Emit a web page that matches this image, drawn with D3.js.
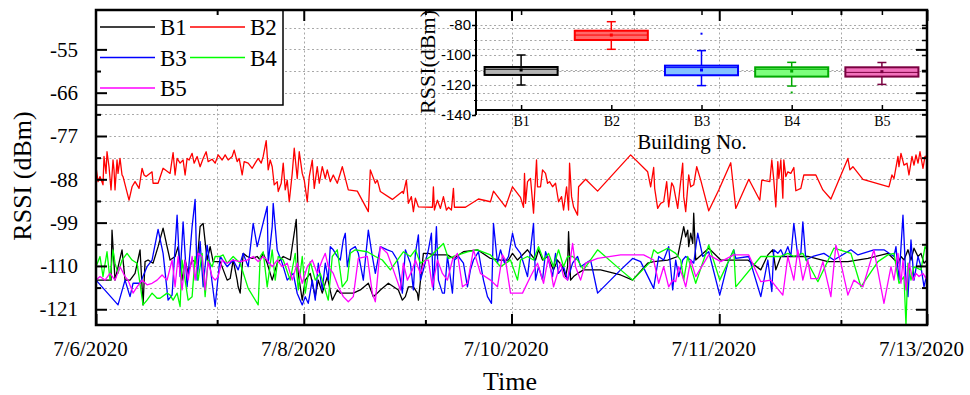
<!DOCTYPE html>
<html><head><meta charset="utf-8">
<script src="https://cdn.jsdelivr.net/npm/d3@7"></script>
<style>body{margin:0;background:#fff}svg{display:block}</style>
</head><body><svg id="c" width="970" height="395"></svg>
<script>
// ---------------- DATA ----------------
const seriesNames = ["B1","B2","B3","B4","B5"];
const xTickValues = [0, 207.5, 415, 622.5, 830];
const xTickLabels = ["7/6/2020","7/8/2020","7/10/2020","7/11/2020","7/13/2020"];
const xMinorValues = [121, 329, 537, 744];
const yTickValues = [-121,-110,-99,-88,-77,-66,-55];
const yMinorValues = [-115.5,-104.5,-93.5,-82.5,-71.5,-60.5,-49.5];

const b1 = [[0,-113.6],[4,-113.6],[15,-113.6],[16,-100.9],[19,-113.6],[26,-105.9],[29,-113.6],[34,-113.6],[39,-111.9],[44,-105.9],[47,-119.9],[49,-108.9],[52,-108.5],[57,-109.3],[62,-105.1],[67,-100.4],[71,-105.1],[74,-108.5],[79,-107.6],[82,-105.1],[86,-113.6],[89,-108.5],[92,-111.9],[96,-108.5],[101,-109.3],[104,-100.0],[107,-99.2],[111,-108.5],[114,-105.1],[117,-108.9],[124,-108.9],[131,-113.6],[134,-113.2],[137,-108.5],[141,-113.6],[142,-115.3],[144,-116.9],[147,-106.8],[151,-107.6],[156,-108.1],[161,-107.6],[164,-108.5],[167,-106.8],[171,-109.3],[174,-111.9],[176,-113.6],[181,-109.3],[187,-107.6],[194,-108.5],[200,-98.2],[202,-111.9],[206,-118.7],[209,-113.6],[214,-111.9],[219,-117.8],[222,-113.6],[226,-116.9],[231,-112.7],
[236,-118.7],[241,-116.1],[244,-116.9],[257,-116.9],[264,-116.1],[272,-114.4],[277,-117.8],[281,-116.9],[284,-116.1],[292,-114.4],[302,-116.1],[306,-118.7],[309,-117.8],[312,-115.3],[317,-115.3],[321,-116.9],[322,-118.7],[327,-106.8],[332,-106.8],[337,-107.2],[344,-107.2],[351,-107.2],[357,-108.1],[367,-106.4],[381,-105.9],[394,-108.1],[404,-108.5],[412,-108.5],[416,-106.8],[421,-108.5],[431,-105.9],[436,-107.6],[439,-108.5],[442,-105.9],[446,-108.5],[451,-107.6],[457,-111.0],[461,-108.5],[466,-110.2],[469,-112.7],[471,-110.2],[472,-101.3],[474,-113.6],[477,-112.7],[481,-111.9],[487,-111.0],[504,-111.0],
[524,-112.3],[536,-113.6],[551,-109.3],[557,-108.9],[571,-108.5],[581,-107.6],[587,-100.0],[589,-102.6],[591,-100.9],[592,-105.1],[594,-101.7],[596,-104.3],[597,-96.6],[599,-108.5],[612,-105.5],[624,-108.5],[651,-108.5],[664,-111.0],[671,-107.2],[676,-105.9],[679,-111.0],[684,-107.6],[697,-107.6],[711,-107.6],[731,-108.9],[751,-108.9],[771,-108.1],[791,-106.8],[801,-109.3],[804,-107.6],[807,-108.5],[811,-105.9],[814,-108.5],[817,-105.5],[821,-107.6],[824,-106.8],[827,-109.3],[830,-108.5]];

const b2 = [[0,-84.8],[2,-88.6],[4,-87.3],[7,-89.4],[8,-82.2],[10,-86.5],[11,-81.0],[13,-84.8],[15,-90.7],[17,-83.1],[18,-85.6],[19,-90.7],[21,-83.1],[22,-86.5],[24,-82.7],[26,-86.9],[27,-87.3],[33,-93.3],[36,-89.9],[39,-88.6],[43,-90.3],[46,-85.2],[48,-86.9],[50,-87.3],[56,-86.1],[57,-89.0],[62,-89.0],[67,-85.2],[74,-86.5],[77,-81.2],[79,-86.9],[81,-82.7],[84,-83.9],[87,-83.1],[89,-86.9],[91,-82.7],[93,-83.1],[96,-81.4],[98,-83.9],[101,-82.2],[104,-84.8],[107,-82.7],[110,-81.0],[112,-83.5],[116,-82.9],[119,-83.9],[122,-81.8],[126,-83.1],[129,-81.8],[132,-83.1],[136,-82.2],[138,-80.6],[141,-83.5],[143,-82.7],[146,-86.9],[148,-83.5],[152,-83.9],[156,-85.2],[159,-83.9],[162,-82.7],[165,-83.9],[167,-82.2],[170,-78.2],[172,-85.6],[174,-83.1],[176,-84.8],[178,-89.4],[181,-88.6],[182,-91.1],[185,-89.0],[187,-83.9],[189,-90.7],[191,-88.2],[193,-93.7],[196,-86.5],[198,-80.1],[201,-87.8],[203,-81.0],[206,-86.5],[208,-88.2],[211,-93.7],[213,-87.3],[216,-83.1],[218,-90.3],[221,-84.8],[223,-89.0],[226,-84.8],[229,-87.8],[231,-85.6],[234,-88.6],[237,-86.9],[241,-89.0],[246,-84.8],[252,-90.7],[261,-91.0],[272,-96.2],[274,-85.6],[279,-89.0],[281,-88.2],[284,-91.1],[296,-93.1],[306,-91.1],[307,-91.6],[310,-88.2],[312,-94.1],[315,-92.4],[317,-96.2],[319,-92.8],[322,-95.0],[336,-95.1],[337,-89.9],[338,-95.8],[341,-93.3],[344,-95.4],[347,-92.4],[350,-95.8],[352,-95.1],[355,-95.8],[357,-90.3],[358,-95.1],[369,-95.1],[382,-93.0],[394,-93.7],[397,-91.0],[409,-95.0],[416,-89.9],[424,-92.6],[427,-95.1],[428,-86.5],[429,-94.1],[431,-88.6],[434,-87.8],[437,-96.6],[440,-83.1],[441,-89.9],[444,-89.9],[446,-85.6],[449,-86.5],[451,-89.0],[453,-88.6],[456,-89.9],[459,-89.0],[462,-93.7],[465,-92.4],[467,-95.8],[470,-89.9],[472,-95.8],[473,-83.9],[475,-92.4],[477,-95.0],[481,-97.1],[482,-89.9],[489,-88.0],[501,-91.0],[534,-81.8],[551,-86.1],[554,-89.9],[557,-85.0],[558,-90.3],[561,-95.4],[564,-94.1],[567,-93.7],[570,-88.6],[572,-95.0],[575,-88.9],[577,-89.9],[581,-95.4],[586,-83.9],[587,-92.4],[589,-96.2],[592,-86.9],[594,-89.9],[597,-89.4],[600,-84.8],[604,-88.2],[612,-96.0],[622,-90.7],[634,-83.8],[639,-95.4],[652,-88.0],[663,-93.3],[665,-88.2],[673,-88.6],[675,-83.1],[677,-88.2],[679,-95.0],[681,-83.5],[682,-87.8],[684,-83.1],[686,-92.8],[687,-83.1],[689,-87.3],[691,-86.1],[694,-86.5],[697,-85.0],[699,-90.9],[704,-90.3],[707,-86.9],[719,-86.9],[726,-90.7],[734,-93.0],[751,-82.7],[753,-85.6],[756,-84.8],[766,-88.0],[792,-89.9],[795,-86.9],[797,-87.8],[801,-82.2],[802,-84.8],[804,-81.4],[807,-84.4],[810,-83.9],[812,-86.9],[815,-82.2],[817,-84.4],[819,-81.8],[821,-83.9],[823,-81.0],[826,-85.2],[828,-82.2],[830,-82.1]];

const b3 = [[0,-113.6],[22,-119.9],[29,-113.6],[34,-117.8],[37,-114.4],[44,-114.4],[51,-110.2],[56,-108.5],[62,-100.7],[67,-106.8],[72,-118.7],[76,-117.4],[81,-97.1],[84,-112.7],[87,-98.8],[91,-115.3],[96,-100.0],[99,-93.1],[101,-113.6],[104,-103.8],[107,-115.3],[111,-104.7],[114,-110.2],[119,-120.3],[124,-107.6],[131,-110.2],[137,-108.5],[142,-111.0],[147,-106.8],[152,-110.2],[157,-99.2],[161,-105.1],[166,-100.0],[171,-94.9],[172,-109.3],[176,-100.0],[177,-94.1],[181,-106.0],[186,-109.3],[191,-113.6],[197,-111.9],[201,-117.0],[206,-119.9],[209,-117.8],[212,-119.5],[216,-113.6],[219,-118.7],[222,-109.3],[226,-116.1],[229,-109.3],[232,-113.6],
[234,-105.1],[237,-105.9],[241,-107.6],[244,-108.5],[247,-103.4],[249,-101.7],[251,-110.2],[254,-105.9],[259,-105.1],[262,-106.8],[267,-113.6],[272,-100.9],[276,-107.6],[279,-111.9],[284,-105.1],[291,-105.9],[296,-106.4],[301,-108.5],[306,-116.9],[309,-105.9],[314,-109.3],[317,-116.1],[319,-106.8],[322,-102.1],[324,-113.6],[327,-111.0],[332,-105.9],[335,-101.7],[337,-116.1],[340,-100.0],[342,-113.6],[346,-116.9],[348,-116.9],[351,-107.6],[352,-109.3],[356,-116.9],[358,-108.5],[362,-107.6],[367,-109.3],[371,-115.3],[374,-111.0],[377,-108.5],[382,-106.4],[387,-113.6],[391,-117.8],[395,-119.5],[397,-99.2],[401,-109.3],[404,-105.9],[408,-109.3],[412,-107.6],[416,-101.7],[419,-105.1],[424,-106.8],[431,-112.7],[437,-99.2],[439,-113.6],[442,-110.2],[446,-113.6],[449,-106.4],[452,-108.5],[456,-112.7],[459,-106.8],[462,-111.9],[467,-110.2],[471,-113.6],[476,-109.3],[481,-107.6],[484,-110.2],[494,-108.5],[501,-116.9],[524,-111.0],
[536,-108.1],[544,-108.9],[557,-115.7],[562,-107.6],[567,-108.5],[572,-105.1],[576,-116.1],[579,-108.5],[582,-112.7],[586,-108.5],[589,-107.6],[594,-108.5],[597,-109.3],[601,-101.7],[606,-107.6],[612,-106.4],[623,-117.4],[631,-109.3],[637,-105.9],[639,-108.1],[652,-107.6],[664,-117.8],[671,-108.5],[675,-116.5],[677,-105.9],[681,-106.8],[684,-105.9],[687,-107.6],[691,-105.1],[694,-107.6],[697,-99.2],[701,-107.6],[704,-106.8],[706,-98.8],[709,-108.5],[716,-107.6],[727,-106.8],[737,-108.5],[754,-105.9],[761,-107.2],[777,-105.9],[787,-105.9],[797,-107.6],[799,-105.1],[802,-113.6],[806,-97.1],[809,-113.6],[811,-117.8],[814,-103.4],[817,-113.6],[821,-107.6],[824,-110.2],[827,-115.3],[830,-111.9]];

const b4 = [[0,-110.2],[4,-107.6],[7,-112.7],[11,-106.4],[14,-113.6],[17,-105.9],[19,-109.3],[22,-111.9],[26,-108.5],[31,-106.8],[36,-108.5],[41,-109.3],[47,-119.9],[51,-118.7],[56,-116.9],[61,-118.2],[64,-118.2],[71,-116.9],[74,-117.4],[77,-118.7],[81,-116.9],[84,-120.3],[86,-108.5],[89,-113.6],[92,-118.7],[96,-117.8],[99,-107.6],[102,-113.6],[106,-106.8],[109,-117.8],[112,-108.5],[116,-110.2],[119,-107.6],[124,-107.6],[127,-107.2],[131,-109.3],[137,-107.6],[144,-109.3],[152,-115.7],[162,-119.9],[164,-107.6],[167,-106.4],[171,-115.3],[176,-105.9],[179,-113.6],[182,-107.6],[187,-108.5],[194,-113.6],[199,-106.8],[202,-116.1],[206,-107.6],[209,-116.9],[214,-108.9],[219,-113.6],[224,-111.9],[232,-118.7],
[236,-107.6],[241,-105.9],[246,-115.3],[251,-113.6],[254,-106.8],[259,-105.9],[271,-106.4],[279,-107.6],[286,-108.5],[294,-111.0],[301,-108.5],[307,-106.4],[314,-107.6],[319,-105.9],[324,-109.3],[329,-108.5],[334,-107.6],[337,-106.8],[347,-104.3],[352,-108.1],[357,-107.6],[371,-106.4],[381,-105.9],[394,-107.2],[404,-110.2],[414,-108.5],[421,-113.6],[424,-108.5],[431,-107.6],[437,-108.5],[442,-105.1],[447,-108.5],[452,-106.8],[457,-110.2],[462,-105.9],[467,-110.2],[471,-107.6],[476,-107.6],[481,-108.5],[487,-111.0],[501,-105.9],
[524,-111.0],[536,-113.6],[554,-108.9],[557,-105.9],[561,-106.8],[571,-105.5],[579,-106.8],[584,-108.5],[587,-113.6],[591,-107.6],[596,-111.9],[599,-114.4],[612,-104.7],[623,-113.6],[637,-105.9],[639,-115.3],[664,-107.6],[674,-107.6],[684,-107.6],[691,-106.8],[697,-107.6],[706,-106.8],[721,-114.0],[737,-105.5],[754,-106.8],[764,-115.3],[781,-108.9],[791,-107.2],[797,-106.8],[802,-114.4],[807,-112.7],[809,-125.0],[811,-109.3],[814,-113.6],[817,-110.2],[824,-111.0],[828,-105.1],[830,-105.9]];

const b5 = [[0,-113.6],[4,-112.7],[9,-113.6],[14,-111.9],[19,-113.6],[24,-110.2],[29,-112.7],[32,-113.6],[37,-116.9],[41,-115.3],[46,-113.6],[51,-114.8],[56,-114.4],[61,-113.6],[66,-112.3],[71,-113.6],[76,-108.5],[79,-115.3],[82,-107.6],[86,-116.1],[89,-108.5],[92,-113.6],[96,-107.6],[99,-113.6],[102,-106.8],[106,-107.6],[109,-116.1],[112,-108.9],[116,-112.7],[119,-113.6],[122,-112.7],[126,-108.5],[131,-109.3],[137,-108.5],[144,-108.9],[151,-108.5],[157,-107.6],[162,-108.9],[167,-107.6],[171,-108.5],[176,-110.2],[181,-108.5],[186,-110.2],[191,-109.3],[196,-113.6],[201,-109.3],[206,-114.4],[211,-110.2],[216,-108.5],[221,-111.9],[226,-108.5],[229,-106.8],[232,-110.2],
[237,-111.9],[242,-115.3],[247,-117.8],[252,-119.1],[257,-117.8],[262,-108.1],[271,-107.6],[276,-116.9],[279,-119.1],[284,-105.1],[291,-106.8],[297,-111.0],[304,-116.1],[307,-109.3],[311,-113.6],[316,-111.0],[319,-108.5],[324,-111.9],[329,-108.5],[332,-108.5],[336,-115.3],[341,-108.5],[346,-111.9],[351,-113.6],[356,-108.5],[361,-106.8],[366,-115.3],[371,-114.4],[377,-105.9],[384,-111.9],[394,-113.6],[401,-115.3],[406,-107.2],[409,-108.5],[414,-116.9],[426,-116.9],[434,-112.7],[441,-109.3],[447,-114.4],[452,-107.6],[457,-115.3],[464,-109.3],[467,-112.7],[471,-113.6],[476,-104.3],[479,-110.2],[484,-113.6],[489,-109.3],[501,-108.1],
[524,-107.2],[547,-107.2],[557,-108.5],[562,-114.4],[567,-110.2],[572,-115.3],[576,-113.6],[579,-114.0],[582,-110.2],[586,-112.7],[589,-115.3],[594,-108.5],[599,-112.7],[612,-107.2],[624,-108.9],[637,-107.2],[652,-107.2],[664,-114.0],[674,-113.6],[686,-117.4],[691,-107.6],[697,-113.6],[701,-105.9],[706,-113.6],[711,-108.5],[714,-113.2],[721,-113.2],[726,-108.9],[734,-117.8],[739,-104.7],[744,-109.3],[751,-117.4],[757,-113.6],[766,-115.3],[777,-105.9],[787,-119.5],[794,-110.2],[797,-113.6],[801,-106.8],[804,-114.4],[806,-108.5],[809,-116.1],[812,-109.3],[816,-113.6],[819,-111.9],[822,-112.7],[826,-111.9],[830,-113.6]];

// inset box-plot statistics
const boxCats   = ["B1","B2","B3","B4","B5"];
const boxLow    = [-120, -96.2, -120.4, -120.7, -119.6];
const boxQ1     = [-113.3, -90.0, -113.5, -114.4, -114.4];
const boxMedian = [-109.5, -86.7, -108.4, -109.5, -111.6];
const boxQ3     = [-108.0, -83.8, -107.1, -108.2, -108.2];
const boxHigh   = [-100.0, -77.8, -97.1, -104.9, -105.0];
const boxMean   = [-110.0, -86.7, -110.0, -110.7, -111.1];
const boxOutliers = [[], [], [-85.8], [-125.0], []];
const insetTickValues = [-80,-100,-120,-140];
const insetGridValues = [-80,-90,-100,-110,-120,-130];

// ---------------- STYLE ----------------
const lineColors = ["#000000","#ff0000","#0000ff","#00ff00","#ff00ff"];
const boxFill   = ["#b4b4b4","#ff6a6a","#84c2ff","#7dff7d","#f272bc"];
const boxStroke = ["#000000","#ff0000","#0000ff","#00a800","#7a0040"];
const serif = "'Liberation Serif','Times New Roman',serif";
const sans = "'Liberation Sans',Arial,sans-serif";

const svg = d3.select("#c");
const L=96, R=927, T=10, B=325;
const x = d3.scaleLinear().domain([0,830]).range([L,R]);
const y = d3.scaleLinear().domain([-125,-45]).range([B,T]);

svg.append("defs").append("clipPath").attr("id","clip")
  .append("rect").attr("x",L).attr("y",T).attr("width",R-L).attr("height",B-T);

// grid
const grid = svg.append("g").attr("stroke","#a8a8a8").attr("stroke-width",1).attr("stroke-dasharray","2,2.5");
grid.selectAll(".gy").data(yTickValues.concat(yMinorValues)).join("line")
  .attr("x1",L).attr("x2",R).attr("y1",d=>Math.round(y(d))+0.5).attr("y2",d=>Math.round(y(d))+0.5);
grid.selectAll(".gx").data(xTickValues.slice(1,-1).concat(xMinorValues)).join("line")
  .attr("y1",T).attr("y2",B).attr("x1",d=>Math.round(x(d))+0.5).attr("x2",d=>Math.round(x(d))+0.5);

// series lines
const allSeries = [b1,b2,b3,b4,b5];
const line = d3.line().x(d=>x(d[0])).y(d=>y(d[1]));
const lg = svg.append("g").attr("clip-path","url(#clip)");
allSeries.forEach((s,i)=>{
  lg.append("path").datum(s).attr("d",line).attr("fill","none")
    .attr("stroke",lineColors[i]).attr("stroke-width",1.3).attr("stroke-linejoin","round");
});

// legend
const leg = svg.append("g");
leg.append("rect").attr("x",L).attr("y",T).attr("width",187).attr("height",95)
  .attr("fill","#fff").attr("stroke","#000").attr("stroke-width",1.5);
const legPos = [[0,0],[1,0],[0,1],[1,1],[0,2]];
seriesNames.forEach((n,i)=>{
  const cx = L + 4 + legPos[i][0]*90, cy = T + 17 + legPos[i][1]*30.5;
  leg.append("line").attr("x1",cx).attr("x2",cx+55).attr("y1",cy).attr("y2",cy)
    .attr("stroke",lineColors[i]).attr("stroke-width",1.5);
  leg.append("text").attr("x",cx+60).attr("y",cy+8).text(n)
    .attr("font-family",serif).attr("font-size",23).attr("fill","#000");
});

// ---------------- INSET ----------------
const IL=476, IR=927, IT=10, IB=110;
const xi = d3.scalePoint().domain(boxCats).range([IL,IR]).padding(0.5);
const yi = d3.scaleLinear().domain([-140,-70]).range([115,10]);
const step = xi.step(), bw = step*0.81;
const ig = svg.append("g");
ig.selectAll(".ig").data(insetGridValues).join("line")
  .attr("x1",IL).attr("x2",IR).attr("y1",d=>Math.round(yi(d))+0.5).attr("y2",d=>Math.round(yi(d))+0.5)
  .attr("stroke","#a8a8a8").attr("stroke-dasharray","2,2.5");
boxCats.forEach((c,i)=>{
  const cx = xi(c);
  const g = ig.append("g");
  g.append("line").attr("x1",cx).attr("x2",cx).attr("y1",yi(boxHigh[i])).attr("y2",yi(boxQ3[i]))
    .attr("stroke",boxStroke[i]).attr("stroke-width",1.5);
  g.append("line").attr("x1",cx).attr("x2",cx).attr("y1",yi(boxQ1[i])).attr("y2",yi(boxLow[i]))
    .attr("stroke",boxStroke[i]).attr("stroke-width",1.5);
  [boxHigh[i],boxLow[i]].forEach(v=>g.append("line").attr("x1",cx-4.5).attr("x2",cx+4.5)
    .attr("y1",yi(v)).attr("y2",yi(v)).attr("stroke",boxStroke[i]).attr("stroke-width",1.5));
  g.append("rect").attr("x",cx-bw/2).attr("y",yi(boxQ3[i])).attr("width",bw)
    .attr("height",yi(boxQ1[i])-yi(boxQ3[i])).attr("fill",boxFill[i])
    .attr("stroke",boxStroke[i]).attr("stroke-width",2);
  g.append("line").attr("x1",cx-bw/2).attr("x2",cx+bw/2).attr("y1",yi(boxMedian[i])).attr("y2",yi(boxMedian[i]))
    .attr("stroke",boxStroke[i]).attr("stroke-width",1);
  g.append("rect").attr("x",cx-1.5).attr("y",yi(boxMean[i])-1.5).attr("width",3).attr("height",3)
    .attr("fill",boxStroke[i]);
  boxOutliers[i].forEach(v=>g.append("rect").attr("x",cx-1).attr("y",yi(v)-1).attr("width",2).attr("height",2)
    .attr("fill",boxStroke[i]));
});
// inset axes
const iax = svg.append("g").attr("transform",`translate(${IL},0)`)
  .call(d3.axisLeft(yi).tickValues(insetTickValues).tickSize(4).tickPadding(1).tickFormat(d=>String(d)));
iax.select(".domain").remove();
iax.selectAll("line").attr("stroke-width",1.5);
iax.selectAll("text").attr("font-family",sans).attr("font-size",15).attr("fill","#000");
svg.append("g").attr("transform",`translate(${IL},0)`)
  .call(d3.axisLeft(yi).tickValues([-90,-110,-130]).tickSize(2).tickFormat(""))
  .call(g=>g.select(".domain").remove());
svg.append("g").attr("transform",`translate(${IR},0)`)
  .call(d3.axisRight(yi).tickValues(insetGridValues).tickSize(-5).tickFormat(""))
  .call(g=>g.select(".domain").remove()).selectAll("line").attr("stroke-width",1.5);
const ibx = svg.append("g").attr("transform",`translate(0,${IB})`)
  .call(d3.axisBottom(xi).tickSize(-5).tickPadding(6));
ibx.select(".domain").remove();
ibx.selectAll("line").attr("stroke-width",1.5);
ibx.selectAll("text").attr("font-family",serif).attr("font-size",14).attr("fill","#000");
svg.append("g").attr("transform",`translate(0,${IT})`)
  .call(d3.axisTop(xi).tickSize(-5).tickFormat(""))
  .call(g=>g.select(".domain").remove()).selectAll("line").attr("stroke-width",1.5);
svg.append("line").attr("x1",IL).attr("x2",IL).attr("y1",IT).attr("y2",115).attr("stroke","#000").attr("stroke-width",2);
svg.append("line").attr("x1",IL).attr("x2",IR).attr("y1",IB).attr("y2",IB).attr("stroke","#000").attr("stroke-width",2);
svg.append("text").attr("x",692).attr("y",149).attr("text-anchor","middle")
  .attr("font-family",serif).attr("font-size",21).text("Building No.");
svg.append("text").attr("transform","translate(435,62) rotate(-90)").attr("text-anchor","middle")
  .attr("font-family",serif).attr("font-size",22).text("RSSI(dBm)");

// ---------------- MAIN AXES ----------------
function styleTicks(g){ g.select(".domain").remove(); g.selectAll("line").attr("stroke","#000").attr("stroke-width",2); }
const ly = svg.append("g").attr("transform",`translate(${L},0)`)
  .call(d3.axisLeft(y).tickValues(yTickValues).tickSize(-11).tickPadding(18).tickFormat(d=>String(d)));
styleTicks(ly);
ly.selectAll("text").attr("font-family",serif).attr("font-size",21).attr("fill","#000");
svg.append("g").attr("transform",`translate(${L},0)`)
  .call(d3.axisLeft(y).tickValues(yMinorValues.slice(0,-1)).tickSize(-5).tickFormat("")).call(styleTicks);
svg.append("g").attr("transform",`translate(${R},0)`)
  .call(d3.axisRight(y).tickValues(yTickValues).tickSize(-11).tickFormat("")).call(styleTicks);
svg.append("g").attr("transform",`translate(${R},0)`)
  .call(d3.axisRight(y).tickValues(yMinorValues).tickSize(-5).tickFormat("")).call(styleTicks);
const bx = svg.append("g").attr("transform",`translate(0,${B})`)
  .call(d3.axisBottom(x).tickValues(xTickValues).tickSize(-11).tickPadding(16).tickFormat((d,i)=>xTickLabels[i]));
styleTicks(bx);
bx.selectAll("text").attr("font-family",serif).attr("font-size",21).attr("fill","#000").attr("dx",-6);
svg.append("g").attr("transform",`translate(0,${B})`)
  .call(d3.axisBottom(x).tickValues(xMinorValues).tickSize(-5).tickFormat("")).call(styleTicks);
svg.append("g").attr("transform",`translate(0,${T})`)
  .call(d3.axisTop(x).tickValues(xTickValues.slice(1)).tickSize(-11).tickFormat("")).call(styleTicks);
svg.append("g").attr("transform",`translate(0,${T})`)
  .call(d3.axisTop(x).tickValues(xMinorValues).tickSize(-5).tickFormat("")).call(styleTicks);

svg.append("rect").attr("x",L).attr("y",T).attr("width",R-L).attr("height",B-T)
  .attr("fill","none").attr("stroke","#000").attr("stroke-width",2.5);

svg.append("text").attr("x",510).attr("y",390).attr("text-anchor","middle")
  .attr("font-family",serif).attr("font-size",26).text("Time");
svg.append("text").attr("transform","translate(31,176) rotate(-90)").attr("text-anchor","middle")
  .attr("font-family",serif).attr("font-size",26).text("RSSI (dBm)");
</script></body></html>
